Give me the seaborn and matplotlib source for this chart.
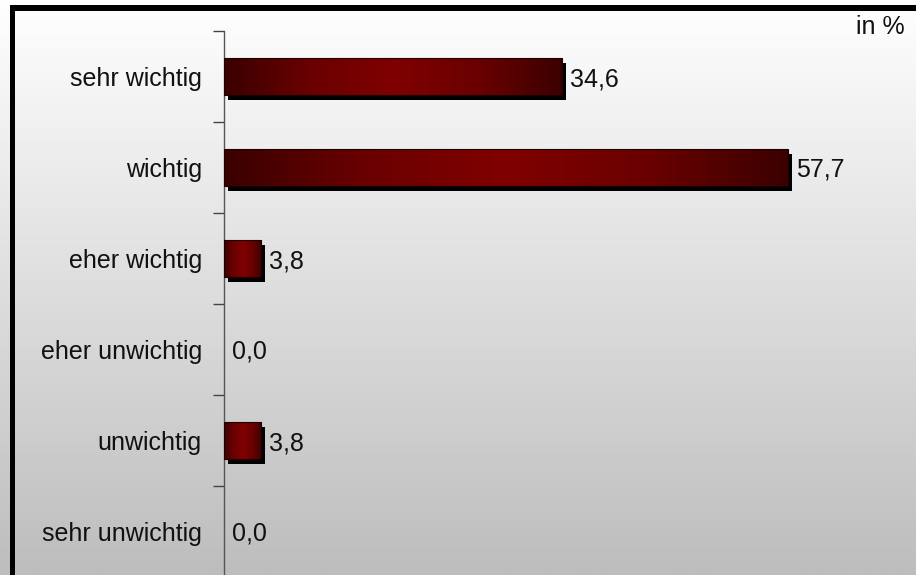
import numpy as np
import pandas as pd
import matplotlib
matplotlib.use("Agg")
import matplotlib.pyplot as plt
import matplotlib.transforms as mtrans
from matplotlib.colors import LinearSegmentedColormap
from matplotlib.patches import Rectangle
import seaborn as sns

categories = ["sehr wichtig", "wichtig", "eher wichtig", "eher unwichtig", "unwichtig", "sehr unwichtig"]
values = [34.6, 57.7, 3.8, 0.0, 3.8, 0.0]
value_labels = ["34,6", "57,7", "3,8", "0,0", "3,8", "0,0"]
unit_label = "in %"

sns.set_theme(style="white")
plt.rcParams['font.family'] = ['Liberation Sans', 'DejaVu Sans']

W, H = 916, 575
DPI = 100
fig = plt.figure(figsize=(W / DPI, H / DPI), dpi=DPI)

# background vertical gradient
bg = fig.add_axes([0, 0, 1, 1], zorder=-10)
bg_cmap = LinearSegmentedColormap.from_list("bg", ["#bdbdbd", "#ffffff"])
bg.imshow(np.linspace(0, 1, 256).reshape(-1, 1)[::-1], cmap=bg_cmap, aspect="auto",
          extent=[0, 1, 0, 1], origin="upper")
bg.set_xlim(0, 1); bg.set_ylim(0, 1)
bg.axis("off")

# border (top and left)
fig.add_artist(Rectangle((10 / W, 0), 5 / W, (H - 5) / H, transform=fig.transFigure,
                         facecolor="black", edgecolor="none", zorder=5))
fig.add_artist(Rectangle((10 / W, (H - 11) / H), (W - 10) / W, 6 / H, transform=fig.transFigure,
                         facecolor="black", edgecolor="none", zorder=5))

px_per_unit = 9.77
x0 = 224
top = 31
step = 91
ax = fig.add_axes([x0 / W, (H - (top + 6 * step)) / H, (W - x0) / W, 6 * step / H])
ax.patch.set_visible(False)

df = pd.DataFrame({"cat": categories, "val": values})
sns.barplot(data=df, x="val", y="cat", orient="h", ax=ax, width=0.4, color="#800000")

xmax = (W - x0) / px_per_unit
bar_cmap = LinearSegmentedColormap.from_list("bar", ["#3a0000", "#6a0000", "#800000", "#6a0000", "#3c0000"])
grad = np.linspace(0, 1, 256).reshape(1, -1)
shadow_tr = ax.transData + mtrans.ScaledTranslation(4 / DPI, -5 / DPI, fig.dpi_scale_trans)

for p in list(ax.patches):
    x, y, w, h = p.get_x(), p.get_y(), p.get_width(), p.get_height()
    if w <= 0:
        p.set_visible(False)
        continue
    sh = Rectangle((x, y), w, h, transform=shadow_tr, facecolor="black", edgecolor="none", zorder=2)
    ax.add_patch(sh)
    im = ax.imshow(grad, cmap=bar_cmap, extent=[x, x + w, y + h, y], aspect="auto", zorder=3)
    im.set_clip_path(p)
    p.set_facecolor("none")
    p.set_edgecolor("#1a0000")
    p.set_linewidth(0.8)
    p.set_zorder(4)

FS = 18
for i, (v, lab) in enumerate(zip(values, value_labels)):
    ax.annotate(lab, xy=(v, i), xytext=(8 / DPI * 72, 0), textcoords="offset points",
                ha="left", va="center_baseline", fontsize=FS, color="#111111")

ax.set_xlim(0, xmax)
ax.set_ylim(5.5, -0.5)
ax.set_xlabel(""); ax.set_ylabel("")
ax.set_xticks([])
ax.set_yticks(range(len(categories)))
ax.set_yticklabels(categories, fontsize=FS, color="#111111", va="center_baseline")
ax.set_yticks(np.arange(-0.5, 6, 1.0), minor=True)
ax.tick_params(axis="y", which="major", length=0, pad=16)
ax.tick_params(axis="y", which="minor", length=8, width=1, color="#444444", left=True)
for s in ["top", "right", "bottom"]:
    ax.spines[s].set_visible(False)
ax.spines["left"].set_color("#555555")
ax.spines["left"].set_linewidth(1)

fig.text(905 / W, (H - 24) / H, unit_label, ha="right", va="center_baseline", fontsize=FS, color="#111111")

fig.savefig("out.png", dpi=DPI)
